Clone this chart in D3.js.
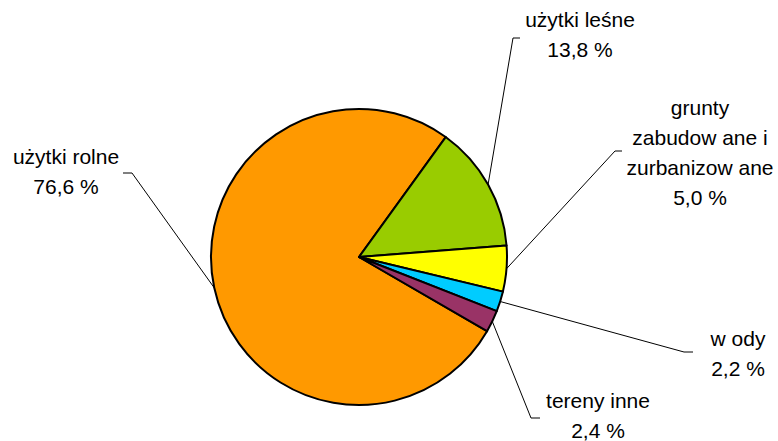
<!DOCTYPE html>
<html>
<head>
<meta charset="utf-8">
<script src="https://cdn.jsdelivr.net/npm/d3@7/dist/d3.min.js"></script>
<style>
  html, body { margin: 0; padding: 0; background: #fff; }
  svg { display: block; }
  text { font-family: "Liberation Sans", Arial, sans-serif; font-size: 21px; fill: #000; }
</style>
</head>
<body>
<svg id="chart" width="778" height="441"></svg>
<script>
// Land use structure (%)
const categories = ["użytki rolne", "użytki leśne", "grunty zabudow ane i zurbanizow ane", "w ody", "tereny inne"];
const values = [76.6, 13.8, 5.0, 2.2, 2.4];
const colors = ["#FF9900", "#99CC00", "#FFFF00", "#00CCFF", "#993366"];
// Label text lines (name lines, value line appended below)
const labelLines = [
  ["użytki rolne"],
  ["użytki leśne"],
  ["grunty", "zabudow ane i", "zurbanizow ane"],
  ["w ody"],
  ["tereny inne"]
];

// Label layout: text centre x, first baseline y, leader elbow and tick end
const labelLayout = [
  { x: 66,  y: 164, elbow: [132, 173], tick: [123, 173] },
  { x: 580, y: 27,  elbow: [513, 38],  tick: [520, 38] },
  { x: 700, y: 115, elbow: [615, 151], tick: [622, 151] },
  { x: 738, y: 346, elbow: [684, 352], tick: [693, 352] },
  { x: 598, y: 408, elbow: [531, 418], tick: [540, 418] }
];

const svg = d3.select("#chart");
const cx = 359, cy = 257, r = 148;
const lineH = 30;

const startDeg = 120.1;
const pie = d3.pie().sort(null).value(d => d)
  .startAngle(startDeg * Math.PI / 180)
  .endAngle((startDeg + 360) * Math.PI / 180);
const arcs = pie(values);
const arc = d3.arc().innerRadius(0).outerRadius(r);

const g = svg.append("g").attr("transform", `translate(${cx},${cy})`);

// Leader lines from each slice's mid-angle on the rim
const leaders = svg.append("g").attr("fill", "none").attr("stroke", "#000").attr("stroke-width", 1);
arcs.forEach((a, i) => {
  const mid = (a.startAngle + a.endAngle) / 2;
  const px = cx + r * Math.sin(mid), py = cy - r * Math.cos(mid);
  const L = labelLayout[i];
  leaders.append("path")
    .attr("d", d3.line()([[px, py], L.elbow, L.tick]));
});

g.selectAll("path.slice")
  .data(arcs)
  .join("path")
  .attr("class", "slice")
  .attr("d", arc)
  .attr("fill", (d, i) => colors[i])
  .attr("stroke", "#000")
  .attr("stroke-width", 2)
  .attr("stroke-linejoin", "round");

// Labels
const fmt = v => d3.format(".1f")(v).replace(".", ",") + " %";
labelLines.forEach((lines, i) => {
  const L = labelLayout[i];
  const all = lines.concat([fmt(values[i])]);
  const t = svg.append("text").attr("text-anchor", "middle");
  all.forEach((s, k) => {
    t.append("tspan").attr("x", L.x).attr("y", L.y + k * lineH).text(s);
  });
});
</script>
</body>
</html>
